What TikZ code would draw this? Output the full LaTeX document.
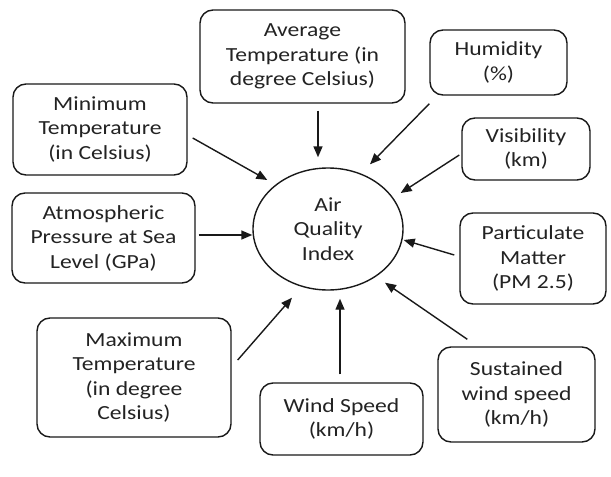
\documentclass[tikz,border=0pt]{standalone}
\usepackage{fontspec}
\setmainfont{Carlito}[FakeStretch=1.18]
\usetikzlibrary{arrows.meta,calc,shapes.geometric}
\definecolor{inkLine}{RGB}{25, 25, 25}
\definecolor{inkText}{RGB}{35, 35, 35}

\tikzset{
  factor/.style={draw=inkLine, line width=1.4pt, rounded corners=13pt, fill=white,
    align=center, text=inkText, inner sep=0pt,
    font=\fontsize{20pt}{24.5pt}\selectfont},
  index/.style={ellipse, draw=inkLine, line width=1.4pt, fill=white, align=center,
    text=inkText, inner sep=0pt, minimum width=150pt, minimum height=122pt,
    font=\fontsize{20pt}{24.5pt}\selectfont},
  feed/.style={draw=inkLine, line width=1.4pt, -{Triangle[length=11pt,width=9pt]}}
}

\begin{document}
\begin{tikzpicture}[x=1pt, y=-1pt]
  \useasboundingbox (0,0) rectangle (611,477);

  % centre
  \node[index] (aqi) at (328,229) {Air\\Quality\\Index};

  % factors
  \node[factor, minimum width=205pt, minimum height=93pt] (avg) at (302.5,56.5)
    {Average\\Temperature (in\\degree Celsius)};
  \node[factor, minimum width=137pt, minimum height=65pt] (hum) at (498.5,62.5)
    {Humidity\\(\%)};
  \node[factor, minimum width=128pt, minimum height=62pt] (vis) at (526,149)
    {Visibility\\(km)};
  \node[factor, minimum width=146pt, minimum height=91pt] (pm) at (533,258.5)
    {Particulate\\Matter\\(PM 2.5)};
  \node[factor, minimum width=157pt, minimum height=95pt] (sus) at (516.5,394.5)
    {Sustained\\wind speed\\(km/h)};
  \node[factor, minimum width=163pt, minimum height=72pt] (wind) at (341.5,419)
    {Wind Speed\\(km/h)};
  \node[factor, minimum width=194pt, minimum height=119pt] (max) at (134,377.5)
    {Maximum\\Temperature\\(in degree\\Celsius)};
  \node[factor, minimum width=183pt, minimum height=90pt] (atm) at (103.5,238)
    {Atmospheric\\Pressure at Sea\\Level (GPa)};
  \node[factor, minimum width=174pt, minimum height=91pt] (min) at (100,129.5)
    {Minimum\\Temperature\\(in Celsius)};

  % arrows into the index
  \draw[feed] ($(avg.south)+(15.5,7)$) -- ($(aqi.north)+(-10,-10)$);
  \draw[feed] ($(hum.south west)+(0,8)$) -- ($(aqi.north)+(42,-3)$);
  \draw[feed] ($(vis.west)+(-2,6)$) -- ($(aqi.east)+(-3,-36)$);
  \draw[feed] ($(pm.west)+(-5,-3.5)$) -- ($(aqi.east)+(0,11)$);
  \draw[feed] ($(sus.north west)+(30,-7)$) -- ($(aqi.south)+(57,-8)$);
  \draw[feed] ($(wind.north)+(-1.5,-8)$) -- ($(aqi.south)+(12,8)$);
  \draw[feed] ($(max.east)+(6,-17.5)$) -- ($(aqi.south)+(-36,7)$);
  \draw[feed] ($(atm.east)+(3,-3)$) -- ($(aqi.west)+(0,6)$);
  \draw[feed] ($(min.east)+(5,8.5)$) -- ($(aqi.west)+(15,-49)$);
\end{tikzpicture}
\end{document}
